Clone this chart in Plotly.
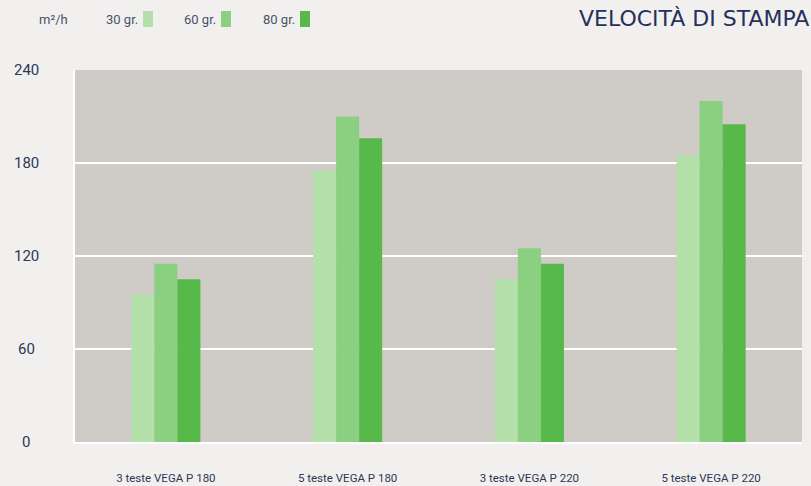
import plotly.graph_objects as go

categories = ["3 teste VEGA P 180", "5 teste VEGA P 180", "3 teste VEGA P 220", "5 teste VEGA P 220"]
series_names = ["30 gr.", "60 gr.", "80 gr."]
values_30 = [95, 175, 105, 185]
values_60 = [115, 210, 125, 220]
values_80 = [105, 196, 115, 205]
y_ticks = [0, 60, 120, 180, 240]
unit_label = "m²/h"
title_text = "VELOCITÀ DI STAMPA"

colors = ["#b4e0aa", "#8bcf81", "#57b94a"]
text_color = "#2d3757"
font_fam = "Roboto, Open Sans, sans-serif"

fig = go.Figure()
for name, vals, c in zip(series_names, [values_30, values_60, values_80], colors):
    fig.add_trace(go.Bar(x=categories, y=vals, name=name, marker=dict(color=c, line=dict(width=0)),
                         showlegend=False, hoverinfo="skip"))

W, H = 811, 486
ml, mr, mt, mb = 75, 9, 70, 44

fig.update_layout(
    width=W, height=H,
    margin=dict(l=ml, r=mr, t=mt, b=mb, autoexpand=False),
    paper_bgcolor="#f1f0ee",
    plot_bgcolor="#cfcbc6",
    barmode="group", bargap=0.62, bargroupgap=0,
    font=dict(family=font_fam, color=text_color, size=12),
    xaxis=dict(showgrid=False, showline=True, linecolor="white", linewidth=2,
               ticks="", tickfont=dict(size=11.5, color=text_color), ticklabelstandoff=24,
               automargin=False, fixedrange=True),
    yaxis=dict(range=[0, 240], tickvals=y_ticks, showticklabels=False,
               showgrid=True, gridcolor="white", gridwidth=2, zeroline=False,
               showline=True, linecolor="white", linewidth=2, automargin=False, fixedrange=True),
)

# y tick labels (centered like reference)
for v in y_ticks:
    fig.add_annotation(x=-49 / (W - ml - mr), xref="paper", y=v, yref="y", text=str(v),
                       showarrow=False, xanchor="center", yanchor="middle",
                       font=dict(size=15, color=text_color, family=font_fam))

# legend row
px = lambda x: (x - ml) / (W - ml - mr)
py = lambda y: (H - mb - y) / (H - mt - mb)
leg_col = "#4a5268"
fig.add_annotation(x=px(37), xref="paper", y=py(20), yref="paper", text=unit_label, showarrow=False,
                   xanchor="left", yanchor="middle", font=dict(size=13, color=leg_col, family=font_fam))
lx = [105, 183, 262]
for i, (name, c) in enumerate(zip(series_names, colors)):
    fig.add_annotation(x=px(lx[i] - 1), xref="paper", y=py(20), yref="paper", text=name, showarrow=False,
                       xanchor="left", yanchor="middle", font=dict(size=13, color=leg_col, family=font_fam))
    fig.add_shape(type="rect", xref="paper", yref="paper", x0=px(lx[i] + 38), x1=px(lx[i] + 48),
                  y0=py(27), y1=py(11), fillcolor=c, line=dict(width=0))

fig.add_annotation(x=px(811), xref="paper", y=py(19), yref="paper", text=title_text, showarrow=False,
                   xanchor="right", yanchor="middle",
                   font=dict(size=22, color="#26305a", family="DejaVu Sans, sans-serif"))

fig.write_html("out.html", config={"displayModeBar": False},
               post_script="document.body.style.margin='0';")
